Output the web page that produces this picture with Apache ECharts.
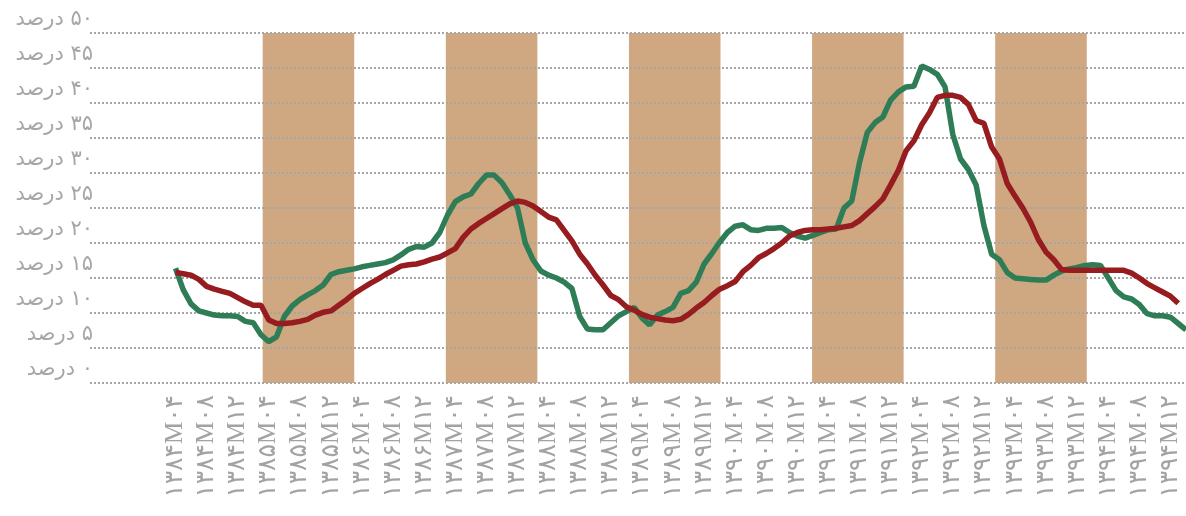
<!DOCTYPE html>
<html>
<head>
<meta charset="utf-8">
<script src="https://cdn.jsdelivr.net/npm/echarts@6/dist/echarts.min.js"></script>
<style>
  html, body { margin: 0; padding: 0; background: #fff; }
  #chart { width: 1186px; height: 516px; }
</style>
</head>
<body>
<div id="chart"></div>
<script>
// monthly axis: first slot 1383M05, series begin at 1384M04
const axisStart = { year: 1383, month: 5 };
const monthCount = 142;
const labelMonths = [4, 8, 12];
const firstLabelYear = 1384;
const shadedYears = [1385, 1387, 1389, 1391, 1393];
const seriesStartIndex = 11;

// green series, 1384M04 onwards
const greenValues = [
  16.4, 13.3, 11.3, 10.3, 10.0, 9.7, 9.6, 9.6, 9.5, 8.8,
  8.6, 6.9, 5.9, 6.6, 9.5, 11.0, 11.9, 12.6, 13.2, 14.0,
  15.5, 15.9, 16.1, 16.3, 16.6, 16.8, 17.0, 17.2, 17.6, 18.3,
  19.1, 19.5, 19.4, 20.0, 21.5, 24.0, 25.9, 26.6, 27.0, 28.5,
  29.7, 29.7, 28.6, 26.9, 25.0, 20.0, 17.6, 16.0, 15.4, 15.0,
  14.4, 13.5, 9.5, 7.7, 7.6, 7.6, 8.6, 9.6, 10.2, 10.8,
  9.3, 8.3, 9.7, 10.2, 10.8, 12.8, 13.2, 14.4, 17.0, 18.5,
  20.1, 21.5, 22.4, 22.6, 21.9, 21.8, 22.1, 22.1, 22.2, 21.5,
  21.0, 20.7, 21.1, 21.5, 21.9, 22.0, 25.0, 26.0, 31.5, 35.8,
  37.2, 38.0, 40.4, 41.6, 42.3, 42.4, 45.3, 44.8, 44.1, 42.3,
  35.5, 32.0, 30.5, 28.3, 22.5, 18.4, 17.6, 15.8, 15.0, 14.9,
  14.8, 14.7, 14.7, 15.4, 16.0, 16.3, 16.5, 16.8, 16.9, 16.8,
  15.0, 13.2, 12.3, 12.0, 11.2, 9.9, 9.6, 9.6, 9.4, 8.5,
  7.6
];

// red series, 1384M04 onwards
const redValues = [
  15.8, 15.6, 15.4, 14.8, 13.8, 13.4, 13.1, 12.8, 12.2, 11.6,
  11.1, 11.1, 9.0, 8.5, 8.5, 8.6, 8.8, 9.1, 9.7, 10.1,
  10.3, 11.1, 11.9, 12.8, 13.5, 14.2, 14.8, 15.5, 16.1, 16.7,
  16.9, 17.0, 17.3, 17.7, 18.0, 18.6, 19.2, 20.8, 22.0, 22.8,
  23.5, 24.2, 24.9, 25.6, 26.0, 25.8, 25.3, 24.5, 23.7, 23.3,
  21.8, 20.3, 18.4, 17.0, 15.4, 14.0, 12.5, 11.9, 10.9, 10.4,
  9.8, 9.4, 9.2, 9.0, 8.9, 9.1, 9.8, 10.7, 11.5, 12.5,
  13.4, 13.9, 14.5, 15.9, 16.8, 17.9, 18.5, 19.2, 20.0, 21.0,
  21.5, 21.8, 21.9, 21.9, 22.0, 22.1, 22.3, 22.5, 23.2, 24.2,
  25.2, 26.3, 28.3, 30.4, 33.2, 34.6, 36.9, 38.6, 40.8, 41.1,
  41.1, 40.8, 39.8, 37.5, 37.1, 33.7, 32.0, 28.5, 26.7, 25.0,
  23.0, 20.5, 18.7, 17.6, 16.2, 16.1, 16.1, 16.1, 16.1, 16.1,
  16.1, 16.1, 16.1, 15.7, 15.0, 14.2, 13.6, 13.0, 12.4, 11.4
];

const faDigits = '۰۱۲۳۴۵۶۷۸۹';
const toFa = s => String(s).replace(/\d/g, d => faDigits[d]);

const categories = [];
const shownLabels = new Set();
for (let i = 0; i < monthCount; i++) {
    const m0 = axisStart.month - 1 + i;
    const year = axisStart.year + Math.floor(m0 / 12);
    const month = (m0 % 12) + 1;
    const name = toFa(year) + 'M' + toFa(String(month).padStart(2, '0'));
    categories.push(name);
    if (year >= firstLabelYear && labelMonths.includes(month)) shownLabels.add(name);
}

const pad = arr => new Array(seriesStartIndex).fill(null).concat(arr);

const chart = echarts.init(document.getElementById('chart'));
chart.setOption({
    animation: false,
    grid: { left: 90, right: 0, top: 33, bottom: 133, containLabel: false, outerBoundsMode: 'none' },
    xAxis: [
        {
            type: 'category',
            data: categories,
            boundaryGap: false,
            axisLine: { show: false },
            axisTick: { show: false },
            splitLine: { show: false },
            axisLabel: {
                interval: (idx, value) => shownLabels.has(value),
                rotate: 90,
                margin: 12,
                color: '#a3a3a3',
                fontSize: 25,
                fontFamily: "'Liberation Serif', 'DejaVu Sans', serif"
            }
        },
        // year scale for the shaded bands
        { type: 'value', min: 1383.114, max: 1395.084, show: false }
    ],
    yAxis: {
        type: 'value',
        min: 0,
        max: 50,
        interval: 5,
        z: 2,
        axisLine: { show: false },
        axisTick: { show: false },
        splitLine: { lineStyle: { color: '#a6a6a6', width: 2, type: [2, 2] } },
        axisLabel: {
            formatter: v => '\u200F' + toFa(v) + ' درصد',
            margin: -3,
            color: '#a6a6a6',
            fontSize: 21,
            fontFamily: "'DejaVu Sans', sans-serif",
            verticalAlign: 'bottom',
            padding: [0, 0, 3, 0]
        }
    },
    series: [
        {
            type: 'line',
            xAxisIndex: 1,
            data: [],
            silent: true,
            markArea: {
                silent: true,
                itemStyle: { color: '#cfa882', opacity: 1 },
                data: shadedYears.map(y => [{ xAxis: y }, { xAxis: y + 1 }])
            }
        },
        {
            name: 'green',
            type: 'line',
            z: 3,
            data: pad(greenValues),
            showSymbol: false,
            lineStyle: { color: '#2e7d57', width: 5.5 }
        },
        {
            name: 'red',
            type: 'line',
            z: 4,
            data: pad(redValues),
            showSymbol: false,
            lineStyle: { color: '#961c1f', width: 5.5 }
        }
    ]
});
</script>
</body>
</html>
